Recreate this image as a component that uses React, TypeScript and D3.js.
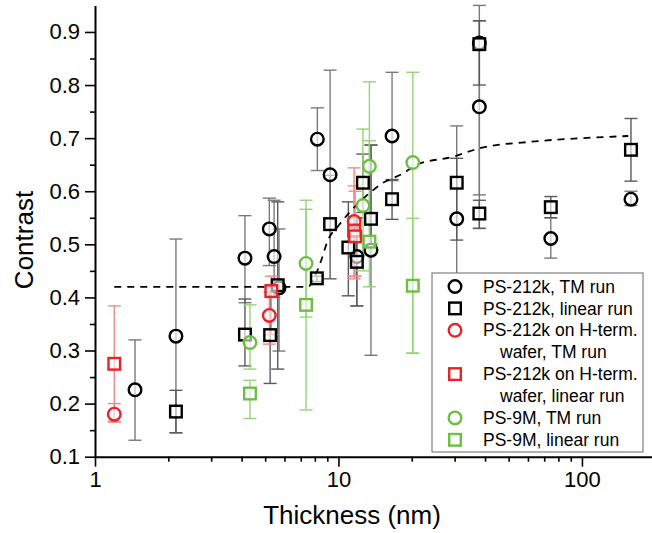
import React, { useEffect, useRef } from 'react';
import * as d3 from 'd3';

// PS-212k, TM run (black circles)
const tmThick = [1.46, 2.15, 4.13, 5.2, 5.44, 5.7, 8.19, 9.24, 11.9, 13.6, 16.6, 30.6, 37.9, 37.9, 74.5, 159];
const tmContrast = [0.226, 0.327, 0.474, 0.529, 0.477, 0.418, 0.698, 0.631, 0.477, 0.489, 0.704, 0.548, 0.759, 0.879, 0.511, 0.585];
const tmLow = [0.131, 0.145, 0.39, 0.46, 0.4, 0.299, 0.639, 0.55, 0.384, 0.291, 0.62, 0.4, 0.593, 0.53, 0.474, 0.573];
const tmHigh = [0.32, 0.51, 0.554, 0.587, 0.583, 0.529, 0.757, 0.828, 0.55, 0.687, 0.824, 0.723, 0.921, 0.95, 0.55, 0.6];

// PS-212k, linear run (black squares)
const linThick = [2.15, 4.13, 5.24, 5.63, 8.15, 9.24, 10.98, 11.9, 12.6, 13.6, 16.6, 30.6, 37.9, 37.9, 74.5, 159];
const linContrast = [0.185, 0.33, 0.329, 0.423, 0.436, 0.538, 0.494, 0.467, 0.616, 0.548, 0.585, 0.616, 0.877, 0.558, 0.57, 0.678];
const linLow = [0.145, 0.271, 0.238, 0.265, 0.43, 0.435, 0.403, 0.384, 0.56, 0.5, 0.547, 0.508, 0.8, 0.53, 0.55, 0.619];
const linHigh = [0.225, 0.397, 0.41, 0.58, 0.44, 0.63, 0.58, 0.55, 0.67, 0.687, 0.622, 0.662, 0.921, 0.583, 0.59, 0.737];

// PS-212k on H-term. wafer, TM run (red circles)
const hTmThick = [1.2, 5.2, 11.6];
const hTmContrast = [0.18, 0.366, 0.543];
const hTmLow = [0.165, 0.312, 0.435];
const hTmHigh = [0.2, 0.42, 0.644];

// PS-212k on H-term. wafer, linear run (red squares)
const hLinThick = [1.2, 5.3, 11.6, 11.7];
const hLinContrast = [0.275, 0.412, 0.526, 0.515];
const hLinLow = [0.167, 0.33, 0.44, 0.44];
const hLinHigh = [0.384, 0.44, 0.61, 0.6];

// PS-9M, TM run (green circles)
const gTmThick = [4.33, 7.36, 12.6, 13.4, 20.2];
const gTmContrast = [0.315, 0.464, 0.573, 0.647, 0.654];
const gTmLow = [0.265, 0.363, 0.45, 0.48, 0.295];
const gTmHigh = [0.386, 0.566, 0.717, 0.806, 0.824];

// PS-9M, linear run (green squares)
const gLinThick = [4.33, 7.36, 13.4, 20.2];
const gLinContrast = [0.219, 0.386, 0.505, 0.422];
const gLinLow = [0.172, 0.188, 0.42, 0.295];
const gLinHigh = [0.244, 0.583, 0.695, 0.549];

// dashed fit
const fitThick = [1.2, 7.5, 8, 8.5, 9, 10, 11, 13.7, 14.8, 18.5, 21, 29.6, 38, 61, 100, 155];
const fitContrast = [0.42, 0.42, 0.44, 0.47, 0.505, 0.535, 0.558, 0.6, 0.612, 0.634, 0.65, 0.665, 0.681, 0.693, 0.7, 0.704];

const yTicks = [0.1, 0.2, 0.3, 0.4, 0.5, 0.6, 0.7, 0.8, 0.9];
const xTicks = [1, 10, 100];

const legendLabels = [
  ['PS-212k, TM run'],
  ['PS-212k, linear run'],
  ['PS-212k on H-term.', 'wafer, TM run'],
  ['PS-212k on H-term.', 'wafer, linear run'],
  ['PS-9M, TM run'],
  ['PS-9M, linear run'],
];

const App = () => {
  const svgRef = useRef(null);

  useEffect(() => {
    const svg = d3.select(svgRef.current);
    svg.selectAll('*').remove();
    const font = '"Liberation Sans", Arial, sans-serif';

    const x = d3.scaleLog().domain([1, 194]).range([95, 652]);
    const y = d3.scaleLinear().domain([0.1, 0.95]).range([456.7, 5.4]);

    const series = [
      { t: tmThick, c: tmContrast, lo: tmLow, hi: tmHigh, shape: 'circle', color: '#000', bar: '#7a7a7a' },
      { t: linThick, c: linContrast, lo: linLow, hi: linHigh, shape: 'square', color: '#000', bar: '#5a5a5a' },
      { t: hTmThick, c: hTmContrast, lo: hTmLow, hi: hTmHigh, shape: 'circle', color: '#ec2027', bar: '#f08a8a' },
      { t: hLinThick, c: hLinContrast, lo: hLinLow, hi: hLinHigh, shape: 'square', color: '#ec2027', bar: '#f08a8a' },
      { t: gTmThick, c: gTmContrast, lo: gTmLow, hi: gTmHigh, shape: 'circle', color: '#6cbf45', bar: '#95d47a' },
      { t: gLinThick, c: gLinContrast, lo: gLinLow, hi: gLinHigh, shape: 'square', color: '#6cbf45', bar: '#95d47a' },
    ];

    // error bars
    series.forEach(s => {
      const g = svg.append('g').attr('stroke', s.bar).attr('stroke-width', 1.4).attr('fill', 'none');
      s.t.forEach((t, i) => {
        const cx = x(t);
        g.append('line').attr('x1', cx).attr('x2', cx).attr('y1', y(s.lo[i])).attr('y2', y(s.hi[i]));
        [s.lo[i], s.hi[i]].forEach(v => {
          g.append('line').attr('x1', cx - 6.5).attr('x2', cx + 6.5).attr('y1', y(v)).attr('y2', y(v));
        });
      });
    });

    // fit line
    const line = d3.line().x(d => x(d[0])).y(d => y(d[1])).curve(d3.curveMonotoneX);
    svg.append('path')
      .attr('d', line(fitThick.map((t, i) => [t, fitContrast[i]])))
      .attr('fill', 'none')
      .attr('stroke', '#000')
      .attr('stroke-width', 1.8)
      .attr('stroke-dasharray', '7,6');

    const drawMarker = (g, shape, color, cx, cy) => {
      if (shape === 'circle') {
        g.append('circle').attr('cx', cx).attr('cy', cy).attr('r', 6.3)
          .attr('fill', 'white').attr('fill-opacity', 0.6).attr('stroke', color).attr('stroke-width', 2.4);
      } else {
        g.append('rect').attr('x', cx - 5.8).attr('y', cy - 5.8).attr('width', 11.6).attr('height', 11.6)
          .attr('fill', 'white').attr('fill-opacity', 0.6).attr('stroke', color).attr('stroke-width', 2.4);
      }
    };

    series.forEach(s => {
      const g = svg.append('g');
      s.t.forEach((t, i) => drawMarker(g, s.shape, s.color, x(t), y(s.c[i])));
    });

    // axes
    const yAxis = svg.append('g').attr('transform', 'translate(95,0)');
    yAxis.call(d3.axisLeft(y).tickValues(yTicks).tickSize(10).tickSizeOuter(0).tickPadding(5).tickFormat(d3.format('.1f')));
    yAxis.append('g').call(d3.axisLeft(y).tickValues(d3.range(0.15, 0.95, 0.1)).tickSize(5).tickFormat(() => ''))
      .select('.domain').remove();

    const xAxis = svg.append('g').attr('transform', 'translate(0,456.7)');
    xAxis.call(d3.axisBottom(x).tickValues(xTicks).tickSize(10).tickSizeOuter(0).tickPadding(5).tickFormat(d3.format('d')));
    const minor = [];
    [1, 10, 100].forEach(b => d3.range(2, 10).forEach(m => { if (b * m < 194) minor.push(b * m); }));
    xAxis.append('g').call(d3.axisBottom(x).tickValues(minor).tickSize(5).tickFormat(() => ''))
      .select('.domain').remove();

    svg.selectAll('.domain').attr('stroke-width', 2).attr('stroke', '#000');
    svg.selectAll('.tick line').attr('stroke-width', 1.6).attr('stroke', '#000');
    svg.selectAll('.tick text').attr('font-size', 22).attr('font-family', font).attr('fill', '#000');

    svg.append('text')
      .attr('transform', 'translate(33,240) rotate(-90)')
      .attr('text-anchor', 'middle')
      .attr('font-size', 26)
      .attr('font-family', font)
      .text('Contrast');

    svg.append('text')
      .attr('x', 352)
      .attr('y', 524)
      .attr('text-anchor', 'middle')
      .attr('font-size', 26)
      .attr('font-family', font)
      .text('Thickness (nm)');

    // legend
    const lg = svg.append('g');
    lg.append('rect').attr('x', 432).attr('y', 273).attr('width', 211).attr('height', 179)
      .attr('fill', 'white').attr('stroke', '#808080').attr('stroke-width', 1.2);
    let row = 0;
    series.forEach((s, i) => {
      const yy = 286.5 + row * 21.9;
      drawMarker(lg, s.shape, s.color, 455, yy);
      legendLabels[i].forEach((txt, j) => {
        lg.append('text')
          .attr('x', j === 0 ? 483 : 500)
          .attr('y', 286.5 + (row + j) * 21.9)
          .attr('dy', '0.35em')
          .attr('font-size', 17.5)
          .attr('font-family', font)
          .text(txt);
      });
      row += legendLabels[i].length;
    });
  }, []);

  return (
    <svg ref={svgRef} width={652} height={533} style={{ position: 'absolute', left: 0, top: 0, background: 'white' }} />
  );
};

export default App;
